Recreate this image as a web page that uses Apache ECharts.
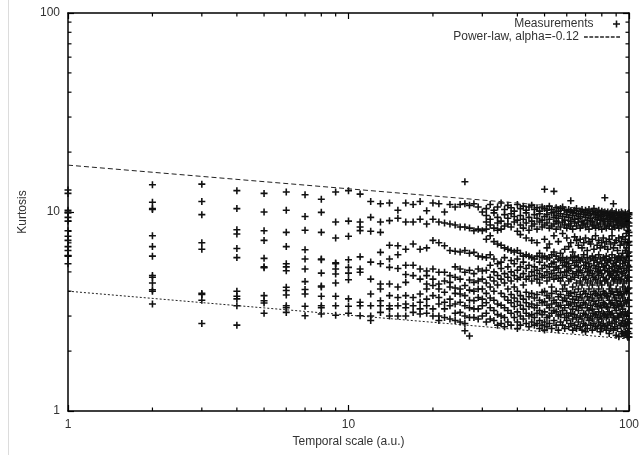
<!DOCTYPE html>
<html><head><meta charset="utf-8">
<script src="https://cdn.jsdelivr.net/npm/echarts@6/dist/echarts.min.js"></script>
<style>html,body{margin:0;padding:0;background:#fff}#c{width:642px;height:455px}</style>
</head><body><div id="c"></div>
<script>
const scales = [1,2,3,4,5,6,7,8,9,10,11,12,13,14,15,16,17,18,19,20,21,22,23,24,25,26,27,28,29,30,
31,32,33,34,35,36,37,38,39,40,41,42,43,44,45,46,47,48,49,50,51,52,53,54,55,56,57,58,59,60,
61,62,63,64,65,66,67,68,69,70,71,72,73,74,75,76,77,78,79,80,81,82,83,84,85,86,87,88,89,90,
91,92,93,94,95,96,97,98,99,100];
const kurtosis = [
[12.9,12.4,10.2,10.0,9.9,9.4,9.0,8.05,7.55,7.2,6.7,6.4,6.05,6.0,5.5],
[13.7,11.2,10.4,10.3,7.6,6.7,6.0,4.8,4.7,4.4,4.07,4.0,3.45],
[13.8,11.3,9.7,7.0,6.5,3.9,3.85,3.6,2.75],
[12.8,10.4,8.15,7.75,6.56,5.9,4.0,3.77,3.66,3.38,2.7],
[12.4,10.0,8.05,7.2,5.85,5.3,5.25,3.8,3.58,3.49,3.1],
[12.6,10.2,7.9,6.7,5.5,5.3,5.07,4.19,4.03,3.83,3.38,3.3,3.13],
[12.2,9.5,8.1,6.46,5.8,5.17,4.47,4.08,3.87,3.36,3.01],
[11.6,9.96,7.9,5.8,5.75,4.93,4.25,4.2,3.77,3.38,3.3,3.07],
[12.6,8.9,7.4,5.55,5.5,5.17,4.88,4.4,3.77,3.38,3.03],
[12.8,9.0,7.55,5.76,5.27,4.93,4.57,3.66,3.36,3.1],
[12.3,8.9,8.4,8.06,5.95,5.17,4.98,3.52,3.38,3.01],
[11.3,9.4,8.0,5.6,4.6,3.87,3.38,3.0,2.85],
[11.0,8.9,7.9,6.27,5.5,4.35,4.1,3.58,3.38,3.13],
[11.1,9.05,6.8,5.8,5.27,4.35,3.8,3.38,3.26,3.0],
[10.2,9.3,6.77,6.1,5.2,4.2,3.72,3.38,3.0],
[11.1,8.9,6.5,5.4,4.85,4.43,3.8,3.45,3.3,3.0],
[10.9,8.9,6.9,5.4,4.79,3.72,3.38,3.13],
[11.3,9.2,6.5,5.17,4.6,3.87,3.52,3.26,3.07],
[10.15,8.7,6.6,5.05,4.79,4.35,4.1,3.65,3.38,3.1],
[11.1,9.2,7.2,5.17,4.6,4.27,3.8,3.26,3.0],
[11.0,8.9,7.0,4.98,4.35,4.1,3.72,3.45,3.0,2.85],
[10.0,8.8,6.77,4.98,4.5,3.95,3.52,3.26,2.95],
[10.9,8.7,6.4,4.79,4.43,4.2,3.65,3.38,2.9],
[10.6,8.6,6.35,5.3,4.7,4.15,3.9,3.45,3.1,2.85],
[10.9,8.4,6.3,5.17,4.6,4.1,3.87,3.52,3.13,2.8],
[14.2,11.0,8.4,6.4,4.98,4.27,3.8,3.38,3.0,2.75,2.53],
[10.8,8.3,6.2,5.1,4.55,4.05,3.6,3.3,2.95,2.38],
[11.0,8.06,6.27,4.9,4.43,4.0,3.58,3.26,2.95],
[10.6,8.2,6.0,5.17,4.5,4.1,3.72,3.26,2.9],
[10.0,8.06,5.95,5.05,4.6,4.1,3.65,3.38,3.0],
[10.4,9.6,8.9,8.2,7.3,5.9,5.1,4.4,3.9,3.5,3.1,2.8],
[10.9,9.2,8.6,7.6,6.1,5.4,4.7,4.2,3.7,3.3,2.9],
[10.2,9.9,8.3,7.1,5.8,5.0,4.5,4.0,3.6,3.2,2.85],
[10.6,9.4,8.8,8.1,6.9,5.5,4.8,4.3,3.45,3.05,2.7],
[11.1,9.0,8.2,6.8,5.6,5.2,4.6,3.9,3.4,3.0,2.75],
[10.3,9.7,8.5,6.6,5.9,4.9,4.4,3.75,3.3,2.95,2.65],
[10.8,9.3,8.7,6.5,5.3,4.7,4.1,3.6,3.2,2.8],
[10.5,9.8,8.4,6.4,5.7,5.0,4.5,3.85,3.5,3.1,2.7],
[10.1,9.5,8.9,6.3,5.5,4.8,4.2,3.7,3.35,2.95],
[10.9,9.1,8.0,6.4,5.8,5.1,4.6,4.0,3.55,3.15,2.8,2.6],
[10.4,9.6,8.6,7.7,6.2,5.3,4.7,3.8,3.4,3.0,2.7],
[10.7,9.2,8.3,6.0,5.6,4.9,4.3,3.65,3.25,2.9],
[10.2,9.9,8.8,7.4,6.1,5.2,4.6,3.95,3.5,3.1,2.75],
[10.6,9.4,8.1,6.0,5.4,4.75,3.75,3.35,3.0,2.65],
[10.8,9.0,8.5,7.2,5.9,5.0,4.5,3.9,3.45,3.05,2.8],
[10.3,9.7,8.7,5.8,5.3,4.8,3.7,3.3,2.95,2.7],
[10.5,9.3,8.2,7.0,6.0,5.1,4.6,3.85,3.4,3.1,2.75],
[10.1,9.8,8.9,6.2,5.6,4.9,4.4,3.6,3.2,2.85,2.6],
[10.6,9.1,8.4,5.9,5.2,4.7,3.95,3.5,3.05,2.7],
[13.0,10.4,9.5,8.6,7.3,6.0,5.4,4.8,4.0,3.55,3.15,2.8,2.55],
[10.2,9.7,8.8,6.6,5.8,5.0,4.5,3.8,3.4,2.95,2.65],
[10.7,9.2,8.3,6.9,5.9,5.3,4.7,3.7,3.3,3.0,2.75],
[10.3,9.9,8.5,6.1,5.5,4.9,4.2,3.9,3.45,3.1,2.6],
[12.7,10.0,9.4,8.7,7.6,6.3,5.6,5.1,4.6,3.6,3.2,2.85],
[10.5,9.6,9.0,8.2,6.0,5.3,4.8,4.0,3.5,3.15,2.7],
[10.1,9.3,8.8,7.1,5.8,5.2,4.65,3.75,3.35,3.0,2.55],
[10.4,9.8,8.4,6.2,5.7,4.95,4.5,3.85,3.4,3.05,2.8],
[10.6,9.5,8.9,7.8,5.9,5.4,4.7,4.1,3.6,3.2,2.7],
[10.2,9.1,8.6,6.5,5.6,5.0,4.3,3.7,3.3,2.95,2.6],
[10.0,9.7,8.3,7.4,5.8,5.3,4.8,4.0,3.55,3.1,2.85],
[10.3,9.4,8.7,6.7,5.5,5.1,4.5,3.8,3.4,3.0,2.65],
[11.4,10.1,9.0,8.5,7.0,5.9,5.2,4.6,3.9,3.45,3.1,2.75],
[9.9,9.6,8.2,6.3,5.7,4.9,4.2,3.65,3.25,2.9,2.55],
[10.2,9.2,8.8,7.5,6.0,5.4,4.7,3.95,3.5,3.05,2.7],
[10.4,9.8,8.5,7.2,5.6,5.0,4.4,3.75,3.35,2.95,2.6],
[9.8,9.3,8.9,6.8,5.9,5.3,4.8,4.1,3.6,3.2,2.8],
[10.1,9.5,8.3,7.3,5.7,5.1,4.5,3.85,3.4,3.0,2.65],
[10.3,9.0,8.6,6.6,5.8,4.95,4.3,3.7,3.3,2.9,2.55],
[9.9,9.7,8.8,7.0,6.1,5.4,4.7,4.0,3.5,3.1,2.75],
[10.2,9.4,8.4,7.4,5.6,5.2,4.6,3.9,3.45,3.05,2.7,2.5],
[10.0,9.1,8.7,6.4,5.9,5.0,4.4,3.75,3.3,2.95,2.6],
[10.3,9.6,8.2,7.1,5.5,5.3,4.8,4.1,3.6,3.2,2.85],
[9.8,9.3,8.9,6.9,5.8,5.1,4.5,3.85,3.4,3.0,2.7],
[10.1,9.0,8.5,7.3,6.0,4.9,4.3,3.7,3.25,2.9,2.55],
[10.4,9.7,8.6,6.5,5.7,5.4,4.7,4.0,3.55,3.1,2.75],
[9.9,9.4,8.3,7.6,5.9,5.2,4.6,3.9,3.45,3.05,2.65],
[10.0,9.2,8.8,6.8,5.6,5.0,4.4,3.8,3.35,2.95,2.6],
[10.2,9.6,8.4,7.2,6.1,5.3,4.8,4.1,3.6,3.15,2.8],
[9.7,9.1,8.7,6.6,5.8,5.1,4.5,3.85,3.4,3.0,2.7,2.5],
[10.1,9.5,8.2,7.0,5.5,4.9,4.3,3.7,3.3,2.9,2.6],
[9.9,9.3,8.9,7.4,5.9,5.3,4.7,4.0,3.5,3.1,2.75],
[11.8,10.0,9.0,8.5,6.7,5.7,5.1,4.5,3.9,3.45,3.05,2.65],
[9.8,9.6,8.3,7.1,6.0,5.4,4.6,3.8,3.35,2.95,2.55],
[10.0,9.2,8.7,6.5,5.6,5.0,4.4,3.75,3.3,3.0,2.7],
[9.7,9.4,8.5,7.3,5.8,5.2,4.8,4.1,3.6,3.15,2.8,2.45],
[9.9,9.0,8.8,6.9,5.7,4.9,4.3,3.9,3.45,3.05,2.6],
[10.1,9.5,8.2,7.6,6.1,5.3,4.7,4.0,3.5,3.1,2.75],
[11.0,9.6,9.2,8.6,6.6,5.5,5.0,4.5,3.85,3.4,2.95,2.55],
[9.8,9.3,8.4,7.0,5.9,5.1,4.6,3.7,3.3,2.9,2.65],
[10.0,9.1,8.9,7.2,5.6,5.4,4.8,4.1,3.6,3.2,2.8,2.4],
[9.6,9.4,8.6,6.4,5.8,5.0,4.4,3.95,3.45,3.0,2.6],
[9.9,9.0,8.3,7.4,6.0,5.2,4.7,3.8,3.35,2.95,2.36],
[9.7,9.5,8.8,6.8,5.7,5.3,4.5,4.0,3.55,3.1,2.7],
[10.0,9.2,8.5,7.1,5.9,5.0,4.6,3.85,3.4,3.05,2.75,2.5],
[9.8,9.3,8.7,7.5,6.2,5.5,4.9,4.2,3.7,3.25,2.85,2.45],
[9.6,9.0,8.4,6.9,5.8,5.2,4.4,3.9,3.45,3.0,2.65,2.4],
[9.9,9.4,8.8,7.3,6.4,5.6,4.8,4.1,3.6,3.15,2.8,2.5],
[9.7,9.2,8.6,7.8,6.6,5.9,5.1,4.5,3.95,3.5,3.0,2.7,2.45],
[9.8,9.5,8.9,8.1,7.0,6.2,5.4,4.7,4.1,3.6,3.1,2.8,2.5,2.35],
[9.9,9.7,9.3,8.8,8.5,7.9,7.6,7.1,6.8,6.3,6.0,5.7,5.3,5.1,4.7,4.5,4.15,3.9,3.6,3.35,3.1,2.9,2.75,2.6,2.45,2.35]
];
const fitUpper = [[1, 17.2], [100, 9.95]];
const fitLower = [[1, 4.0], [100, 2.3]];
const minorTicks = [2,3,4,5,6,7,8,9,20,30,40,50,60,70,80,90];
const seriesNames = ['Measurements', 'Power-law, alpha=-0.12'];

const points = [];
scales.forEach((s, i) => kurtosis[i].forEach(v => points.push([s, v])));

const plus = 'path://M2.4,0h1.4v6.2h-1.4z M0,2.4h6.2v1.4h-6.2z';
const dashIcon = 'path://M0,0h3.8v1.3h-3.8z M5.4,0h3.8v1.3h-3.8z M10.8,0h3.8v1.3h-3.8z M16.2,0h3.8v1.3h-3.8z M21.6,0h3.8v1.3h-3.8z M27,0h3.8v1.3h-3.8z M32.4,0h3.8v1.3h-3.8z';
const ink = '#000';
const txt = '#333';
const font = 'Liberation Sans, Arial, sans-serif';

function minorX(params, api) {
  const p = api.coord([api.value(0), 1]);
  const cs = params.coordSys;
  const b = cs.y + cs.height, t = cs.y;
  return { type: 'group', children: [
    { type: 'line', shape: { x1: p[0], y1: b, x2: p[0], y2: b - 3.5 }, style: { stroke: ink, lineWidth: 1.2 } },
    { type: 'line', shape: { x1: p[0], y1: t, x2: p[0], y2: t + 3.5 }, style: { stroke: ink, lineWidth: 1.2 } }
  ]};
}
function minorY(params, api) {
  const p = api.coord([1, api.value(1)]);
  const cs = params.coordSys;
  const l = cs.x, r = cs.x + cs.width;
  return { type: 'group', children: [
    { type: 'line', shape: { x1: l, y1: p[1], x2: l + 3.5, y2: p[1] }, style: { stroke: ink, lineWidth: 1.2 } },
    { type: 'line', shape: { x1: r, y1: p[1], x2: r - 3.5, y2: p[1] }, style: { stroke: ink, lineWidth: 1.2 } }
  ]};
}

const axisCommon = {
  type: 'log', logBase: 10, min: 1, max: 100,
  axisLine: { show: true, onZero: false, lineStyle: { color: ink, width: 1.5 } },
  axisTick: { show: true, inside: true, length: 6, lineStyle: { color: ink, width: 1.2 } },
  splitLine: { show: false },
  minorTick: { show: false },
  minorSplitLine: { show: false }
};

const chart = echarts.init(document.getElementById('c'), null, { renderer: 'canvas' });
chart.setOption({
  animation: false,
  backgroundColor: '#fff',
  textStyle: { fontFamily: font },
  grid: { left: 68, right: 9, top: 13, bottom: 44, containLabel: false },
  graphic: [{ type: 'line', shape: { x1: 8.5, y1: 0, x2: 8.5, y2: 455 }, style: { stroke: '#dcdcdc', lineWidth: 1 }, silent: true }],
  legend: [
    { data: [{ name: seriesNames[0], icon: plus }], right: 22, top: 18, align: 'right', orient: 'horizontal', padding: 0,
      itemWidth: 36, itemHeight: 7, selectedMode: false,
      textStyle: { fontSize: 12, color: txt, fontFamily: font } },
    { data: [{ name: seriesNames[1], icon: dashIcon }], right: 22, top: 31, align: 'right', orient: 'horizontal', padding: 0,
      itemWidth: 36, itemHeight: 7, selectedMode: false,
      itemStyle: { color: '#222' },
      textStyle: { fontSize: 12, color: txt, fontFamily: font } }
  ],
  xAxis: [
    Object.assign({}, axisCommon, {
      position: 'bottom',
      axisLabel: { color: txt, fontSize: 12, margin: 8, fontFamily: font },
      name: 'Temporal scale (a.u.)', nameLocation: 'middle', nameGap: 23,
      nameTextStyle: { color: txt, fontSize: 12, fontFamily: font }
    }),
    Object.assign({}, axisCommon, { position: 'top', axisLabel: { show: false } })
  ],
  yAxis: [
    Object.assign({}, axisCommon, {
      position: 'left',
      axisLabel: { color: txt, fontSize: 12, margin: 8, fontFamily: font },
      name: 'Kurtosis', nameLocation: 'middle', nameGap: 34, nameRotate: 90,
      nameTextStyle: { color: txt, fontSize: 12, fontFamily: font }
    }),
    Object.assign({}, axisCommon, { position: 'right', axisLabel: { show: false } })
  ],
  series: [
    { name: seriesNames[0], type: 'scatter', data: points, symbol: plus, symbolSize: 7,
      itemStyle: { color: '#111', opacity: 1 }, silent: true, z: 3 },
    { name: seriesNames[1], type: 'line', data: fitUpper, symbol: 'none', silent: true,
      lineStyle: { color: '#222', width: 1, type: [5, 3] }, itemStyle: { color: '#222' }, z: 4 },
    { name: seriesNames[1], type: 'line', data: fitLower, symbol: 'none', silent: true,
      lineStyle: { color: '#222', width: 1, type: [2, 2] }, itemStyle: { color: '#222' }, z: 4 },
    { type: 'custom', data: minorTicks.map(v => [v, 1]), renderItem: minorX, silent: true, z: 5 },
    { type: 'custom', data: minorTicks.map(v => [1, v]), renderItem: minorY, silent: true, z: 5 }
  ]
});
</script>
</body></html>
